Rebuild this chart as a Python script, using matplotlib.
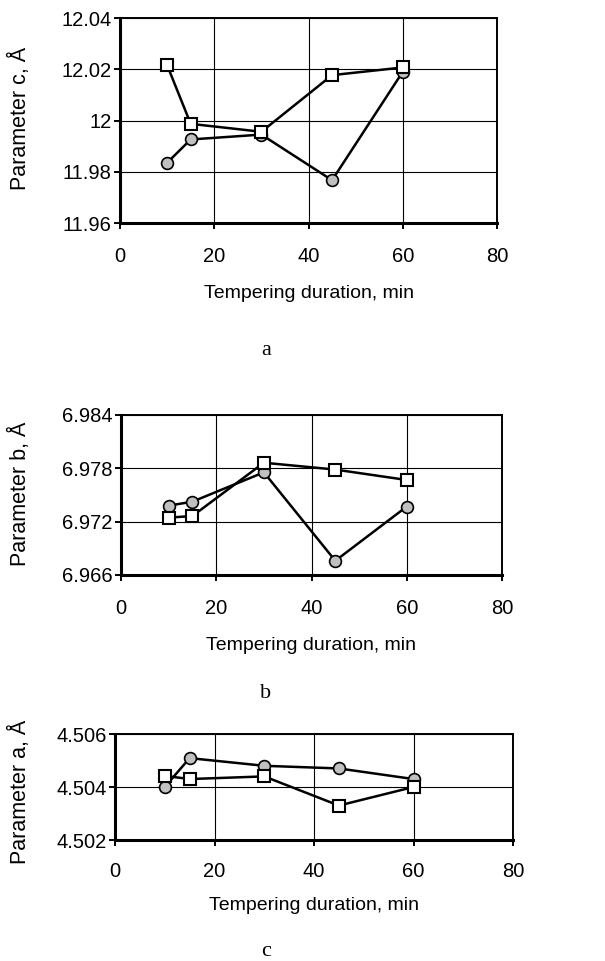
import matplotlib
matplotlib.use("Agg")
import matplotlib.pyplot as plt

plt.rcParams['font.family'] = ['Liberation Sans', 'DejaVu Sans']

# ---- data ----
duration = [10, 15, 30, 45, 60]

c_circle = [11.9835, 11.9926, 11.9945, 11.9767, 12.0190]
c_square = [12.0216, 11.9987, 11.9956, 12.0177, 12.0207]

b_circle = [6.9738, 6.97425, 6.97755, 6.9676, 6.9737]
b_square = [6.97245, 6.97264, 6.97863, 6.97786, 6.97669]

a_circle = [4.5040, 4.50509, 4.5048, 4.5047, 4.5043]
a_square = [4.50442, 4.5043, 4.5044, 4.5033, 4.5040]

x_ticks = [0, 20, 40, 60, 80]
c_ticks = [11.96, 11.98, 12.00, 12.02, 12.04]
c_ticklabels = ["11.96", "11.98", "12", "12.02", "12.04"]
b_ticks = [6.966, 6.972, 6.978, 6.984]
b_ticklabels = ["6.966", "6.972", "6.978", "6.984"]
a_ticks = [4.502, 4.504, 4.506]
a_ticklabels = ["4.502", "4.504", "4.506"]

xlabel = "Tempering duration, min"
ylabels = ["Parameter c, Å", "Parameter b, Å", "Parameter a, Å"]
letters = ["a", "b", "c"]

W, H = 605, 961
fig = plt.figure(figsize=(W / 100, H / 100), dpi=100)


def px_axes(l, t, r, b):
    return fig.add_axes([l / W, (H - b) / H, (r - l) / W, (b - t) / H])


def style(ax, yt, ytl, pad_x):
    ax.set_xlim(0, 80)
    ax.set_ylim(yt[0], yt[-1])
    ax.set_xticks(x_ticks)
    ax.set_yticks(yt)
    ax.set_yticklabels(ytl)
    ax.grid(True, color='black', linewidth=0.8)
    ax.set_axisbelow(True)
    for s in ['left', 'bottom']:
        ax.spines[s].set_linewidth(2.2)
    for s in ['top', 'right']:
        ax.spines[s].set_linewidth(1.4)
    ax.tick_params(axis='y', direction='out', length=4, width=1.4,
                   labelsize=14.5, pad=2)
    ax.tick_params(axis='x', direction='out', length=4, width=1.4,
                   labelsize=14.5, pad=pad_x)


def draw(ax, circ, sq):
    ax.plot(duration, circ, color='black', linewidth=1.8, marker='o',
            markersize=8.5, markerfacecolor='#c0c0c0',
            markeredgecolor='black', markeredgewidth=1.2, zorder=3)
    ax.plot(duration, sq, color='black', linewidth=1.8, marker='s',
            markersize=9, markerfacecolor='white',
            markeredgecolor='black', markeredgewidth=1.5, zorder=4)


panels = [
    ((120, 18, 497, 223), c_circle, c_square, c_ticks, c_ticklabels, 13.5, 294, 118, 351),
    ((121, 415, 502, 575), b_circle, b_square, b_ticks, b_ticklabels, 13.5, 645, 494, 694),
    ((115, 734, 513, 840), a_circle, a_square, a_ticks, a_ticklabels, 12, 906, 792, 951),
]

for i, (box, circ, sq, yt, ytl, padx, xl_y, yl_y, let_y) in enumerate(panels):
    ax = px_axes(*box)
    style(ax, yt, ytl, padx)
    draw(ax, circ, sq)
    cx = (box[0] + box[2]) / 2
    fig.text(cx / W, 1 - xl_y / H, xlabel, ha='center', va='center', fontsize=14)
    fig.text(20 / W, 1 - yl_y / H, ylabels[i], ha='center', va='center',
             rotation=90, fontsize=15.5)
    fig.text(266 / W, 1 - let_y / H, letters[i], ha='center', va='center',
             fontsize=16, family=['Liberation Serif', 'DejaVu Serif'])

fig.savefig("out.png", dpi=100)
